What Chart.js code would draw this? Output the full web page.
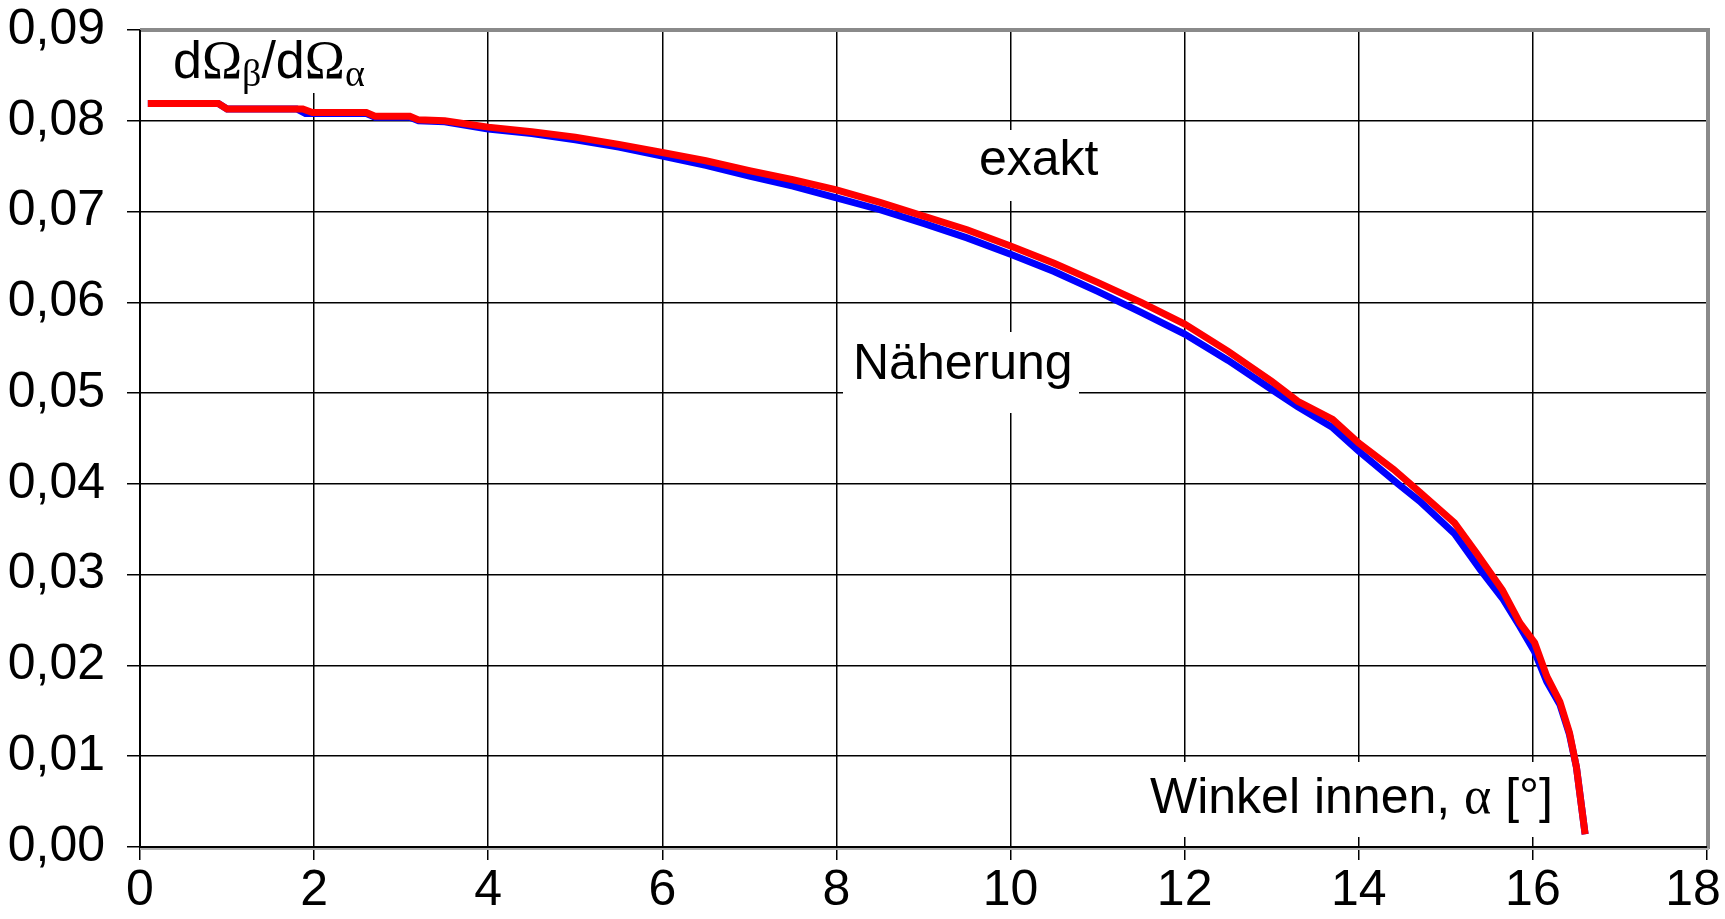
<!DOCTYPE html>
<html>
<head>
<meta charset="utf-8">
<title>dΩβ/dΩα</title>
<script src="https://cdn.jsdelivr.net/npm/chart.js@4/dist/chart.umd.min.js"></script>
<style>
  html, body { margin: 0; padding: 0; background: #fff; }
  #wrap { width: 1725px; height: 919px; }
</style>
</head>
<body>
<div id="wrap"><canvas id="grafik" width="1725" height="919"></canvas></div>
<script>
// Werte
const exaktX = [0.09, 0.9, 1.0, 1.87, 1.98, 2.6, 2.7, 3.1, 3.2, 3.5, 4.0, 4.5, 5.0, 5.5, 6.0, 6.5, 7.0, 7.5, 8.0, 8.5, 9.0, 9.5, 10.0, 10.5, 11.0, 11.5, 12.0, 12.5, 13.0, 13.3, 13.7, 14.0, 14.4, 14.7, 15.1, 15.35, 15.65, 15.85, 16.02, 16.16, 16.31, 16.42, 16.5, 16.6];
const exaktY = [0.0819, 0.0819, 0.0813, 0.0813, 0.0809, 0.0809, 0.0805, 0.0805, 0.0801, 0.0800, 0.0793, 0.0788, 0.0782, 0.0774, 0.0765, 0.0756, 0.0745, 0.0735, 0.0724, 0.0710, 0.0695, 0.0680, 0.0662, 0.0643, 0.0622, 0.0600, 0.0576, 0.0546, 0.0513, 0.0491, 0.0471, 0.0445, 0.0416, 0.0391, 0.0357, 0.0324, 0.0283, 0.0247, 0.0225, 0.0188, 0.0160, 0.0126, 0.0088, 0.0014];

const naeherungX = [0.09, 0.9, 1.0, 1.8, 1.9, 2.6, 2.7, 3.1, 3.2, 3.5, 4.0, 4.5, 5.0, 5.5, 6.0, 6.5, 7.0, 7.5, 8.0, 8.5, 9.0, 9.5, 10.0, 10.5, 11.0, 11.5, 12.0, 12.5, 13.0, 13.3, 13.7, 14.0, 14.45, 14.7, 15.1, 15.4, 15.65, 15.85, 16.02, 16.16, 16.31, 16.42, 16.5, 16.6];
const naeherungY = [0.0819, 0.0819, 0.0813, 0.0813, 0.0808, 0.0808, 0.0804, 0.0804, 0.0800, 0.0799, 0.0791, 0.0786, 0.0779, 0.0771, 0.0761, 0.0751, 0.0739, 0.0728, 0.0715, 0.0702, 0.0687, 0.0671, 0.0653, 0.0634, 0.0612, 0.0589, 0.0565, 0.0536, 0.0504, 0.0485, 0.0462, 0.0436, 0.0400, 0.0381, 0.0345, 0.0305, 0.0274, 0.0243, 0.0215, 0.0182, 0.0157, 0.0124, 0.0088, 0.0014];

const xMin = 0, xMax = 18, xSchritt = 2;
const yMin = 0, yMax = 0.09, ySchritt = 0.01;

const SANS = "'Liberation Sans', Arial, sans-serif";
const SERIF = "'Liberation Serif', 'Times New Roman', serif";

// Beschriftungen im Diagramm (Textteile: text, schrift, groesse, versatz)
const beschriftungen = [
  { box: [148, 32, 365, 93], x: 173, y: 78, teile: [
    ['d', SANS, 52, 0], ['Ω', SERIF, 54, 0], ['β', SERIF, 38, 8],
    ['/', SANS, 52, 0], ['d', SANS, 52, 0], ['Ω', SERIF, 54, 0], ['α', SERIF, 38, 8]] },
  { box: [960, 130, 1115, 201], x: 979, y: 175, teile: [['exakt', SANS, 50, 0]] },
  { box: [843, 332, 1079, 413], x: 853, y: 379, teile: [['Näherung', SANS, 50, 0]] },
  { box: [1140, 762, 1565, 837], x: 1150, y: 813, teile: [
    ['Winkel innen, ', SANS, 50, 0], ['α', SERIF, 52, 0], [' [°]', SANS, 50, 0]] }
];

function punkte(xs, ys) {
  return xs.map((x, i) => ({ x: x, y: ys[i] }));
}

const beschriftungPlugin = {
  id: 'beschriftung',
  beforeDatasetsDraw(chart) {
    const ctx = chart.ctx;
    ctx.save();
    beschriftungen.forEach(b => {
      ctx.fillStyle = '#ffffff';
      ctx.fillRect(b.box[0], b.box[1], b.box[2] - b.box[0], b.box[3] - b.box[1]);
      let x = b.x;
      ctx.fillStyle = '#000000';
      ctx.textBaseline = 'alphabetic';
      ctx.textAlign = 'left';
      b.teile.forEach(t => {
        ctx.font = t[2] + 'px ' + t[1];
        ctx.fillText(t[0], x, b.y + t[3]);
        x += ctx.measureText(t[0]).width;
      });
    });
    ctx.restore();
  },
  afterDraw(chart) {
    // Rahmen mit grauem Schatten oben und rechts
    const a = chart.chartArea;
    const ctx = chart.ctx;
    ctx.save();
    ctx.strokeStyle = '#8a8a8a';
    ctx.lineWidth = 4;
    ctx.beginPath();
    ctx.moveTo(a.left, a.top);
    ctx.lineTo(a.right + 1, a.top);
    ctx.lineTo(a.right + 1, a.bottom + 2);
    ctx.stroke();
    ctx.strokeStyle = '#b0b0b0';
    ctx.lineWidth = 2;
    ctx.beginPath();
    ctx.moveTo(a.left, a.bottom + 2);
    ctx.lineTo(a.right + 2, a.bottom + 2);
    ctx.stroke();
    ctx.strokeStyle = '#000000';
    ctx.lineWidth = 2;
    ctx.beginPath();
    ctx.moveTo(a.left, a.top);
    ctx.lineTo(a.left, a.bottom);
    ctx.lineTo(a.right, a.bottom);
    ctx.stroke();
    ctx.restore();
  }
};

const ctx = document.getElementById('grafik').getContext('2d');
const grafik = new Chart(ctx, {
  type: 'scatter',
  data: {
    datasets: [
      {
        label: 'exakt',
        data: punkte(exaktX, exaktY),
        showLine: true,
        borderColor: '#ff0000',
        borderWidth: 7,
        pointRadius: 0,
        tension: 0,
        order: 0
      },
      {
        label: 'Näherung',
        data: punkte(naeherungX, naeherungY),
        showLine: true,
        borderColor: '#0000ff',
        borderWidth: 7,
        pointRadius: 0,
        tension: 0,
        order: 1
      }
    ]
  },
  options: {
    responsive: false,
    animation: false,
    layout: { padding: { top: 30, right: 18, left: 0, bottom: 0 } },
    plugins: {
      legend: { display: false },
      tooltip: { enabled: false }
    },
    scales: {
      x: {
        type: 'linear',
        min: xMin,
        max: xMax,
        afterFit: s => { s.height = 72; s.paddingLeft = 0; s.paddingRight = 0; },
        border: { display: false },
        grid: { color: '#000000', lineWidth: 1.5, tickLength: 13 },
        ticks: {
          stepSize: xSchritt,
          color: '#000000',
          padding: 1,
          maxRotation: 0,
          font: { family: SANS, size: 50 },
          // letzte Beschriftung etwas nach links, damit sie ins Bild passt
          callback: v => v === xMax ? v + '  ' : String(v)
        }
      },
      y: {
        min: yMin,
        max: yMax,
        afterFit: s => { s.width = 140; s.paddingTop = 0; s.paddingBottom = 0; },
        border: { display: false },
        grid: { color: '#000000', lineWidth: 1.5, tickLength: 13 },
        ticks: {
          stepSize: ySchritt,
          color: '#000000',
          padding: 22,
          font: { family: SANS, size: 50 },
          callback: v => v.toFixed(2).replace('.', ',')
        }
      }
    }
  },
  plugins: [beschriftungPlugin]
});
</script>
</body>
</html>
